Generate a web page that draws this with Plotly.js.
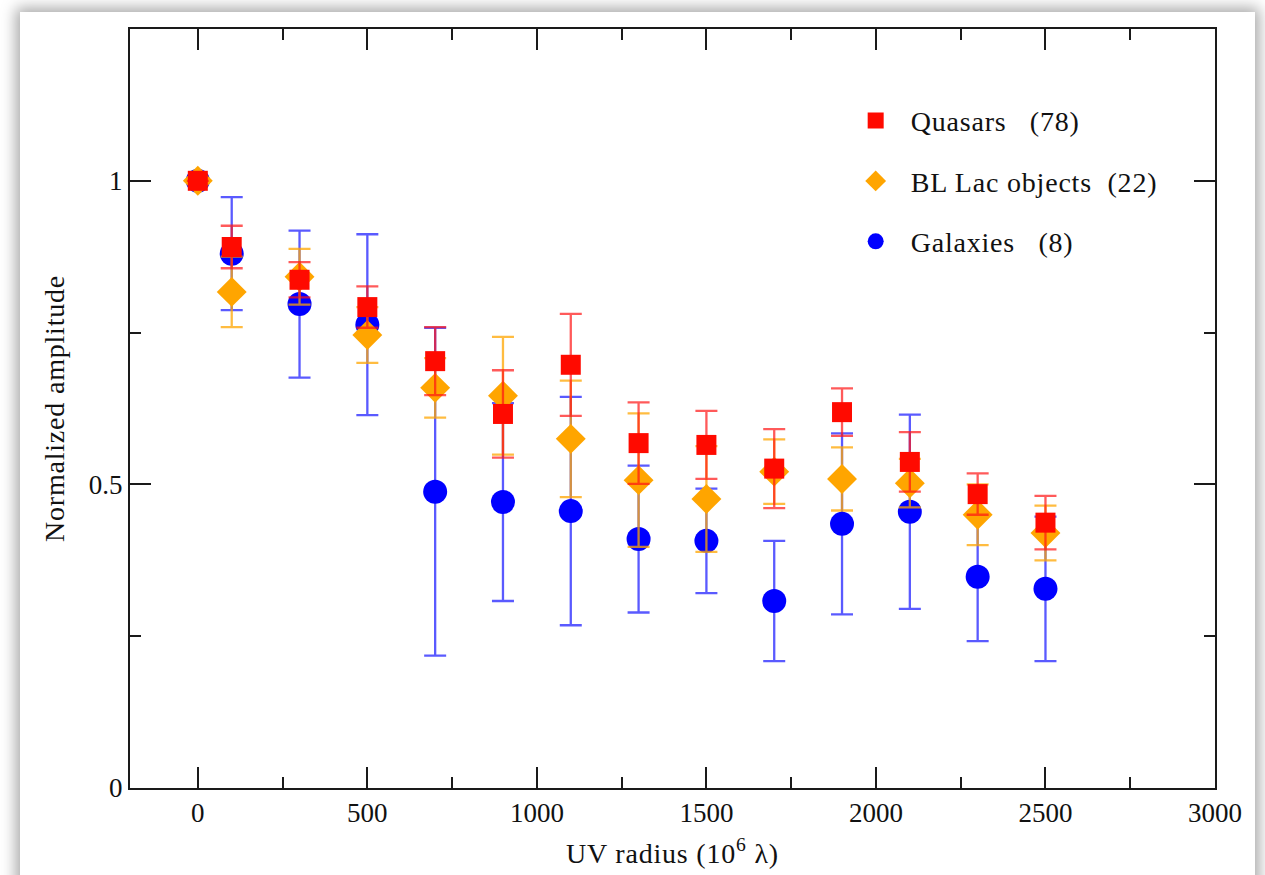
<!DOCTYPE html>
<html>
<head>
<meta charset="utf-8">
<script src="https://cdn.plot.ly/plotly-3.0.1.min.js"></script>
<style>
  html, body { margin:0; padding:0; background:#ffffff; width:1265px; height:875px; overflow:hidden; }
  #card { position:absolute; left:20px; top:12px; width:1235px; height:900px; background:#fff;
          box-shadow: 0 0 14px 4px rgba(0,0,0,0.35); }
  #plot { position:absolute; left:0; top:0; width:1265px; height:875px; }
  .legendtext, .g-xtitle text, .g-ytitle text, .xtitle, .ytitle { letter-spacing:0.8px; }
</style>
</head>
<body>
<div id="card"></div>
<div id="plot"></div>
<script>
// UV radius (10^6 lambda)
const uvRadius = [0, 100, 300, 500, 700, 900, 1100, 1300, 1500, 1700, 1900, 2100, 2300, 2500];

// Quasars (78)
const quasarAmp = [1.0, 0.891, 0.837, 0.792, 0.703, 0.616, 0.697, 0.568, 0.565, 0.526, 0.619, 0.537, 0.484, 0.437];
const quasarErr = [0.0, 0.035, 0.029, 0.034, 0.056, 0.072, 0.084, 0.067, 0.056, 0.065, 0.039, 0.049, 0.034, 0.044];

// BL Lac objects (22)
const bllacAmp = [1.0, 0.817, 0.842, 0.746, 0.659, 0.646, 0.575, 0.507, 0.476, 0.521, 0.509, 0.502, 0.450, 0.420];
const bllacErr = [0.0, 0.058, 0.046, 0.046, 0.049, 0.097, 0.096, 0.110, 0.087, 0.053, 0.052, 0.040, 0.050, 0.045];

// Galaxies (8)
const galaxyAmp = [1.0, 0.880, 0.797, 0.763, 0.488, 0.471, 0.456, 0.410, 0.407, 0.308, 0.435, 0.455, 0.348, 0.328];
const galaxyErr = [0.0, 0.093, 0.121, 0.149, 0.270, 0.163, 0.188, 0.121, 0.086, 0.099, 0.149, 0.160, 0.106, 0.119];

const NB = '\u00A0';
const seriesNames = ['Quasars' + NB + NB + NB + '(78)', 'BL Lac objects' + NB + NB + '(22)', 'Galaxies' + NB + NB + NB + '(8)'];

const xTicks = [0, 500, 1000, 1500, 2000, 2500, 3000];
const yTicks = [0, 0.5, 1];
const yTickText = ['0', '0.5', '1'];

const serif = 'Liberation Serif, Times New Roman, serif';

function errOpts(arr, color) {
  return { type:'data', array:arr, visible:true, color:color, thickness:2.3, width:11 };
}

const traces = [
  {
    x: uvRadius, y: galaxyAmp, name: seriesNames[2], mode:'markers', type:'scatter',
    marker:{ symbol:'circle', size:24, color:'#0000ff' },
    error_y: errOpts(galaxyErr, 'rgba(20,20,255,0.7)'),
    legendrank: 3, legendgroup:'g'
  },
  {
    x: uvRadius, y: bllacAmp, name: seriesNames[1], mode:'markers', type:'scatter',
    marker:{ symbol:'diamond', size:23, color:'#ffa500' },
    error_y: errOpts(bllacErr, 'rgba(255,165,0,0.75)'),
    legendrank: 2, legendgroup:'b'
  },
  {
    x: uvRadius, y: quasarAmp, name: seriesNames[0], mode:'markers', type:'scatter',
    marker:{ symbol:'square', size:20, color:'#ff0a00' },
    error_y: errOpts(quasarErr, 'rgba(255,20,20,0.7)'),
    legendrank: 1, legendgroup:'q'
  }
];

const axisCommon = {
  showline:true, linecolor:'#1a1a1a', linewidth:2, mirror:'allticks',
  ticks:'inside', ticklen:21, tickwidth:2, tickcolor:'#1a1a1a',
  showgrid:false, zeroline:false,
  tickfont:{ family:serif, size:27, color:'#111' }
};

const layout = {
  width:1265, height:875,
  paper_bgcolor:'rgba(0,0,0,0)', plot_bgcolor:'rgba(0,0,0,0)',
  margin:{ l:130, r:50, t:29, b:87 },
  showlegend:true,
  legend:{
    x:0.655, y:0.912, xanchor:'left', yanchor:'top',
    bgcolor:'rgba(0,0,0,0)', borderwidth:0,
    font:{ family:serif, size:28, color:'#111' },
    traceorder:'grouped', tracegroupgap:21, itemwidth:60
  },
  xaxis: Object.assign({}, axisCommon, {
    range:[-200, 3000], tickvals:xTicks, ticktext:xTicks.map(String),
    minor:{ dtick:250, tick0:0, ticks:'inside', ticklen:11, tickwidth:2, tickcolor:'#1a1a1a' },
    title:{ text:'UV radius (10<sup>6</sup> λ)', font:{ family:serif, size:28, color:'#111' }, standoff:16 }
  }),
  yaxis: Object.assign({}, axisCommon, {
    range:[0, 1.25], tickvals:yTicks, ticktext:yTickText,
    minor:{ dtick:0.25, tick0:0, ticks:'inside', ticklen:11, tickwidth:2, tickcolor:'#1a1a1a' },
    title:{ text:'Normalized amplitude', font:{ family:serif, size:28, color:'#111' }, standoff:16 }
  })
};

Plotly.newPlot('plot', traces, layout, { displayModeBar:false, staticPlot:true });
</script>
</body>
</html>
